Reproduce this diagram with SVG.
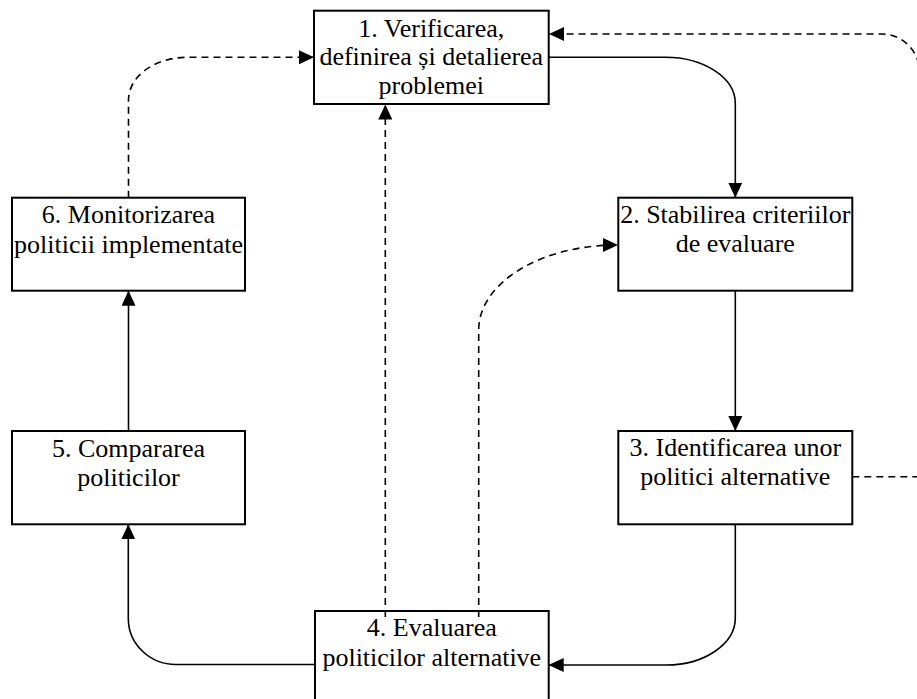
<svg xmlns="http://www.w3.org/2000/svg" width="917" height="699" viewBox="0 0 917 699">
<style>
.box{fill:#fff;stroke:#000;stroke-width:2}
.t{font-family:"Liberation Serif","Times New Roman",serif;font-size:26px;fill:#000;text-anchor:middle}
.c{fill:none;stroke:#000;stroke-width:1.6;marker-end:url(#ah)}
.d{stroke-dasharray:7 5}
</style>
<defs>
<marker id="ah" markerUnits="userSpaceOnUse" markerWidth="15" markerHeight="14" refX="15" refY="7" orient="auto">
<path d="M0,0 L15,7 L0,14 Z" fill="#000"/>
</marker>
</defs>
<rect width="917" height="699" fill="#fff"/>
<g id="n1"><rect class="box" x="314" y="10.7" width="234.7" height="93.3"/>
<text class="t" x="431.3" y="36.7">1. Verificarea,</text>
<text class="t" x="431.3" y="65">definirea și detalierea</text>
<text class="t" x="431.3" y="94">problemei</text></g>
<g id="n2"><rect class="box" x="618.3" y="197.7" width="234" height="93"/>
<text class="t" x="735.3" y="223.3">2. Stabilirea criteriilor</text>
<text class="t" x="735.3" y="251.7">de evaluare</text></g>
<g id="n3"><rect class="box" x="618.3" y="431" width="234" height="93.3"/>
<text class="t" x="735.3" y="456">3. Identificarea unor</text>
<text class="t" x="735.3" y="485">politici alternative</text></g>
<g id="n4"><rect class="box" x="315" y="611" width="233.7" height="93.3"/>
<text class="t" x="431.8" y="636">4. Evaluarea</text>
<text class="t" x="431.8" y="666">politicilor alternative</text></g>
<g id="n5"><rect class="box" x="12" y="431" width="233" height="93.3"/>
<text class="t" x="128.5" y="456.7">5. Compararea</text>
<text class="t" x="128.5" y="485.7">politicilor</text></g>
<g id="n6"><rect class="box" x="12" y="197.7" width="233" height="93"/>
<text class="t" x="128.5" y="223">6. Monitorizarea</text>
<text class="t" x="128.5" y="252.7">politicii implementate</text></g>
<g id="connectors">
<path class="c" d="M548.7,57.3 H665 A70,46 0 0 1 735.3,103.3 V197.7"/>
<path class="c" d="M735.3,290.7 V431"/>
<path class="c" d="M735.3,524.3 V618 A69,47 0 0 1 666.3,665 H548.7"/>
<path class="c" d="M315,664.5 H176 A47.7,46 0 0 1 128.3,618.5 V524.3"/>
<path class="c" d="M128.5,431 V290.7"/>
<path class="c d" d="M128.5,197.7 V100 A58.5,42.7 0 0 1 187,57.3 H314"/>
<path class="c d" d="M385.3,617 V104.5"/>
<path class="c d" d="M478.7,617 V330 A138,85 0 0 1 617,245 H618"/>
<path class="c d" d="M852.3,476.7 H920 V74 A38,40 0 0 0 882,34 H549"/>
</g>
</svg>
